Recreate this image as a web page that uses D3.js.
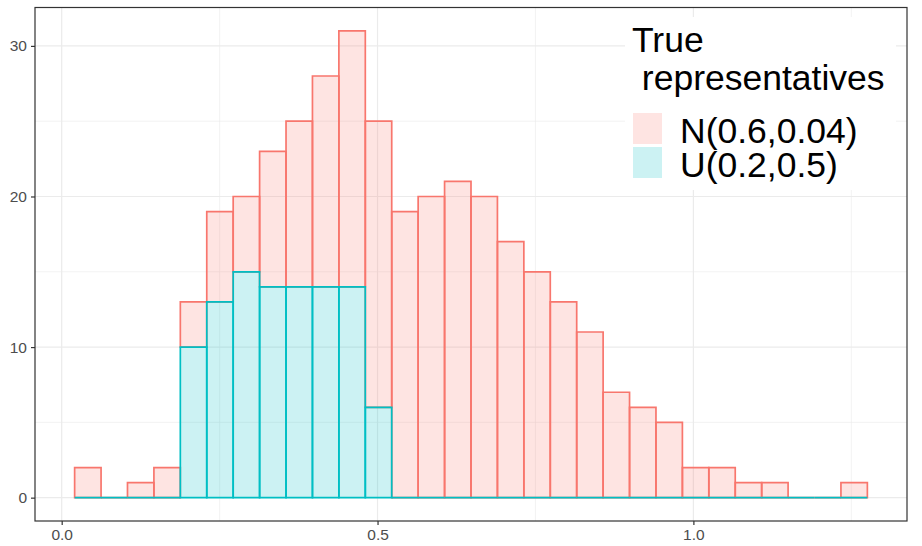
<!DOCTYPE html>
<html><head><meta charset="utf-8">
<script src="https://cdn.jsdelivr.net/npm/d3@7"></script>
<style>body{margin:0;background:#fff}svg{display:block}text{font-family:"Liberation Sans",Arial,Helvetica,sans-serif}</style>
</head><body>
<svg id="chart" width="922" height="546"></svg>
<script>
// ---- data ----
const binLeft = 0.0205;      // left edge of first bin
const binWidth = 0.04183;    // histogram bin width
const nCounts = [2,0,1,2,3,6,5,9,11,14,17,19,19,20,21,20,17,15,13,11,7,6,5,2,2,1,1,0,0,1]; // N(0.6,0.04)
const uCounts = [0,0,0,0,10,13,15,14,14,14,14,6,0,0,0,0,0,0,0,0,0,0,0,0,0,0,0,0,0,0];  // U(0.2,0.5)
const seriesNames = ["N(0.6,0.04)", "U(0.2,0.5)"];
const seriesColors = ["#F8766D", "#00BFC4"];
const xTicks = [0.0, 0.5, 1.0];
const xMinor = [0.25, 0.75, 1.25];
const yTicks = [0, 10, 20, 30];
const yMinor = [5, 15, 25];
const legendTitle = ["True", " representatives"];

// ---- layout ----
const svg = d3.select("#chart");
const P = {l: 35, r: 907, t: 7.5, b: 521};
const nb = nCounts.length;
const xLo = binLeft, xHi = binLeft + nb * binWidth;
const xPad = 0.05 * (xHi - xLo);
const totals = nCounts.map((d, i) => d + uCounts[i]);
const yMax = d3.max(totals);
const x = d3.scaleLinear().domain([xLo - xPad, xHi + xPad]).range([P.l, P.r]);
const y = d3.scaleLinear().domain([-0.05 * yMax, yMax * 1.05]).range([P.b, P.t]);

// panel background & grid
svg.append("rect").attr("x", P.l).attr("y", P.t).attr("width", P.r - P.l).attr("height", P.b - P.t).attr("fill", "#fff");
const g = svg.append("g");
g.selectAll(".gxm").data(xMinor).enter().append("line")
  .attr("x1", d => x(d)).attr("x2", d => x(d)).attr("y1", P.t).attr("y2", P.b)
  .attr("stroke", "#EBEBEB").attr("stroke-width", 0.6);
g.selectAll(".gym").data(yMinor).enter().append("line")
  .attr("y1", d => y(d)).attr("y2", d => y(d)).attr("x1", P.l).attr("x2", P.r)
  .attr("stroke", "#EBEBEB").attr("stroke-width", 0.6);
g.selectAll(".gx").data(xTicks).enter().append("line")
  .attr("x1", d => x(d)).attr("x2", d => x(d)).attr("y1", P.t).attr("y2", P.b)
  .attr("stroke", "#EBEBEB").attr("stroke-width", 1.2);
g.selectAll(".gy").data(yTicks).enter().append("line")
  .attr("y1", d => y(d)).attr("y2", d => y(d)).attr("x1", P.l).attr("x2", P.r)
  .attr("stroke", "#EBEBEB").attr("stroke-width", 1.2);

// bars: stacked, U at bottom, N on top (paths so zero-height bins still show as lines)
const bins = nCounts.map((d, i) => ({
  x0: binLeft + i * binWidth, x1: binLeft + (i + 1) * binWidth,
  u: uCounts[i], n: d
}));
const barPath = (x0, x1, lo, hi) => {
  const a = x(x0), b = x(x1), yb = y(lo), yt = y(hi);
  return `M${a},${yb}V${yt}H${b}V${yb}Z`;
};
const bars = svg.append("g");
bars.selectAll(".bn").data(bins).enter().append("path")
  .attr("d", d => barPath(d.x0, d.x1, d.u, d.u + d.n))
  .attr("fill", seriesColors[0]).attr("fill-opacity", 0.2)
  .attr("stroke", seriesColors[0]).attr("stroke-width", 1.7);
bars.selectAll(".bu").data(bins).enter().append("path")
  .attr("d", d => barPath(d.x0, d.x1, 0, d.u))
  .attr("fill", seriesColors[1]).attr("fill-opacity", 0.2)
  .attr("stroke", seriesColors[1]).attr("stroke-width", 1.7);

// axes
const ax = svg.append("g").attr("transform", `translate(0,${P.b})`)
  .call(d3.axisBottom(x).tickValues(xTicks).tickFormat(d3.format(".1f")).tickSize(4).tickPadding(4));
const ay = svg.append("g").attr("transform", `translate(${P.l},0)`)
  .call(d3.axisLeft(y).tickValues(yTicks).tickSize(4).tickPadding(4));
[ax, ay].forEach(a => {
  a.select(".domain").remove();
  a.selectAll(".tick line").attr("stroke", "#333333").attr("stroke-width", 1.2);
  a.selectAll(".tick text").attr("fill", "#4D4D4D").style("font-size", "15.5px")
    .style("font-family", '"Liberation Sans",Arial,sans-serif');
});

// panel border
svg.append("rect").attr("x", P.l).attr("y", P.t).attr("width", P.r - P.l).attr("height", P.b - P.t)
  .attr("fill", "none").attr("stroke", "#333333").attr("stroke-width", 1.2);

// legend
const lg = svg.append("g");
lg.append("rect").attr("x", 625).attr("y", 17).attr("width", 271).attr("height", 173).attr("fill", "#fff");
lg.selectAll(".lt").data(legendTitle).enter().append("text")
  .attr("x", 632).attr("y", (d, i) => 52 + i * 38)
  .attr("fill", "#000").style("font-size", "35.5px").style("white-space", "pre")
  .attr("xml:space", "preserve").text(d => d);
seriesNames.forEach((name, i) => {
  lg.append("rect").attr("x", 633).attr("y", 113 + i * 34).attr("width", 29).attr("height", 31)
    .attr("fill", seriesColors[i]).attr("fill-opacity", 0.2);
  lg.append("text").attr("x", 680).attr("y", 143 + i * 33.5)
    .attr("fill", "#000").style("font-size", "35.5px").text(name);
});
</script>
</body></html>
